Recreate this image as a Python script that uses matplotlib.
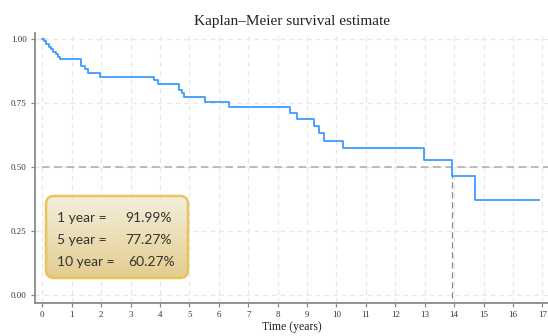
import matplotlib
matplotlib.use("Agg")
import matplotlib.pyplot as plt
import numpy as np
from matplotlib.patches import FancyBboxPatch

# Kaplan-Meier step curve
times = [0.0, 0.07, 0.14, 0.22, 0.30, 0.38, 0.46, 0.53, 0.60,
         1.32, 1.45, 1.56, 1.96, 3.80, 3.92, 4.66, 4.74, 4.82,
         5.52, 6.36, 8.42, 8.67, 9.25, 9.40, 9.57, 10.21, 12.96,
         13.94, 14.70, 16.90]
surv = [1.0, 0.99, 0.98, 0.97, 0.96, 0.95, 0.94, 0.93, 0.9199,
        0.895, 0.883, 0.868, 0.853, 0.84, 0.823, 0.80, 0.788, 0.7727,
        0.755, 0.735, 0.712, 0.688, 0.659, 0.632, 0.6027, 0.574, 0.528,
        0.465, 0.37, 0.37]
median_time = 13.94

x_ticks = list(range(0, 18))
y_ticks = [0.0, 0.25, 0.5, 0.75, 1.0]

box_labels = ["1 year =", "5 year =", "10 year ="]
box_values = ["91.99%", "77.27%", "60.27%"]

W, H = 548, 336
fig = plt.figure(figsize=(W / 100, H / 100), dpi=100, facecolor="white")
ax = fig.add_axes([35 / W, 1 - 303 / H, 513 / W, 270 / H])

serif = ["Liberation Serif", "DejaVu Serif"]

# grid
for xt in x_ticks:
    ax.axvline(xt, color="#e8e8e8", lw=0.9, ls=(0, (4, 3)), zorder=0)
for yt in y_ticks:
    ax.axhline(yt, color="#e8e8e8", lw=0.9, ls=(0, (4, 3)), zorder=0)

# median reference lines
ax.plot([0, 17.3], [0.5, 0.5], color="#aaaaaa", lw=1.1, ls=(0, (5, 3)), zorder=1)
ax.plot([median_time, median_time], [-0.05, 0.5], color="#888888", lw=0.9,
        ls=(0, (5, 3)), zorder=1)

ax.step(times, surv, where="post", color="#3d9bff", lw=1.3, zorder=3)

ax.set_xlim(-0.247, 17.19)
ax.set_ylim(-0.031, 1.023)
ax.set_xticks(x_ticks)
ax.set_yticks(y_ticks)
ax.set_yticklabels([f"{v:.2f}" for v in y_ticks])
for lab in ax.get_xticklabels() + ax.get_yticklabels():
    lab.set_fontfamily(serif)
    lab.set_fontsize(6.5)
    lab.set_color("#353545")
ax.tick_params(axis="both", direction="out", length=3, width=0.9,
               color="#888888", pad=3)

for s in ["top", "right"]:
    ax.spines[s].set_visible(False)
for s in ["left", "bottom"]:
    ax.spines[s].set_color("#8a8a8a")
    ax.spines[s].set_linewidth(1.3)

ax.set_title("Kaplan\u2013Meier survival estimate", family=serif, fontsize=11,
             color="#222222", pad=6)
ax.set_xlabel("Time (years)", family=serif, fontsize=8.5, color="#222222",
              labelpad=1)

# summary box with vertical gradient
bx0, by0, bw, bh = 45, 279, 144, 84  # pixels (left, bottom from top, width, height)
bax = fig.add_axes([bx0 / W, 1 - by0 / H, bw / W, bh / H])
bax.set_xlim(0, bw)
bax.set_ylim(0, bh)
bax.axis("off")
grad = np.linspace(0, 1, 100).reshape(-1, 1)
top_c = np.array([0.957, 0.937, 0.866])
bot_c = np.array([0.890, 0.800, 0.555])
img = top_c[None, None, :] * (1 - grad[:, :, None]) + bot_c[None, None, :] * grad[:, :, None]
im = bax.imshow(img, extent=[0, bw, 0, bh], origin="upper", aspect="auto", zorder=1)
patch = FancyBboxPatch((1, 1), bw - 2, bh - 2,
                       boxstyle="round,pad=0,rounding_size=8",
                       facecolor="none", edgecolor="#e8c55c", lw=1.8,
                       clip_on=False, zorder=2)
bax.add_patch(patch)
im.set_clip_path(patch)

line_y = [bh - (218 - (by0 - bh)), bh - (240 - (by0 - bh)), bh - (262 - (by0 - bh))]
val_x = [125 - bx0, 125 - bx0, 128 - bx0]
for lab, val, yy, vx in zip(box_labels, box_values, line_y, val_x):
    bax.text(57 - bx0, yy, lab, family=["Lato", "DejaVu Sans"], fontsize=10,
             color="#333333", va="center", ha="left", zorder=3)
    bax.text(vx, yy, val, family=["Lato", "DejaVu Sans"], fontsize=10,
             color="#333333", va="center", ha="left", zorder=3)

fig.savefig("out.png", dpi=100, facecolor="white")
